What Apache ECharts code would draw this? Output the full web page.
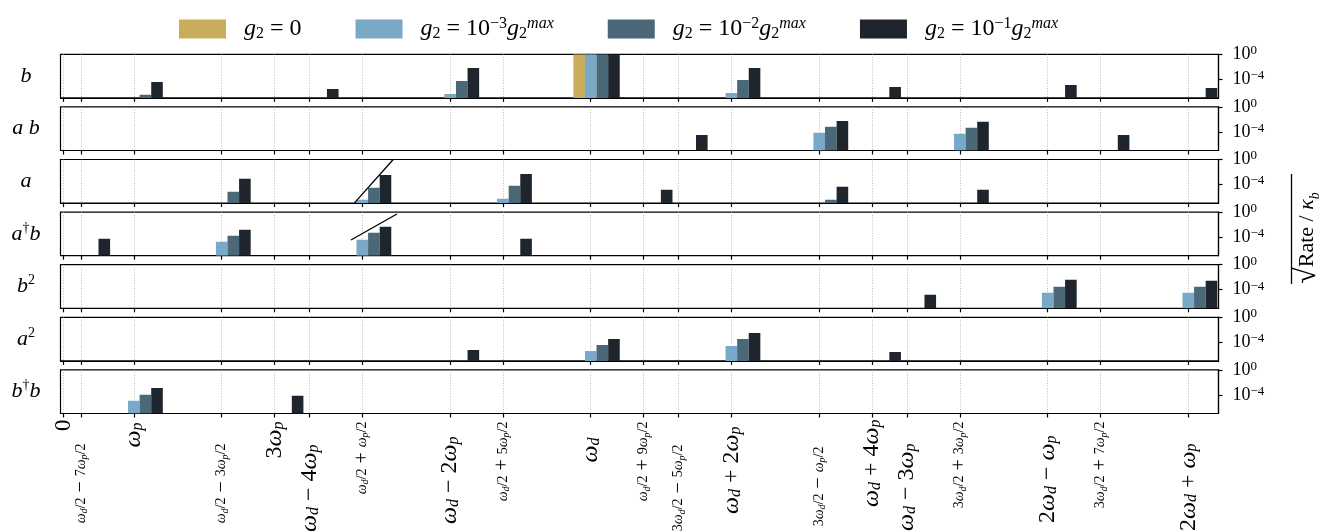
<!DOCTYPE html>
<html><head><meta charset="utf-8">
<script src="https://cdn.jsdelivr.net/npm/echarts@6/dist/echarts.min.js"></script>
<style>html,body{margin:0;padding:0;background:#fff}#c{width:1332px;height:531px}</style>
</head><body><div id="c"></div>
<script>
// ---------- data ----------
// x positions in units of omega_p (omega_d = 7.5 omega_p)
const tickPos = [0, 0.25, 1, 2.25, 3, 3.5, 4.25, 5.5, 6.25, 7.5, 8.25, 8.75, 9.5, 10.75, 11.5, 12, 12.75, 14, 14.75, 16];
const tickLabels = [
  '{Z|0}',
  '{S|ω}{Ss|d}{Sr|/2}{Or| − }{Sr|7}{S|ω}{Ss|p}{Sr|/2}',
  '{L|ω}{Ls|p}',
  '{S|ω}{Ss|d}{Sr|/2}{Or| − }{Sr|3}{S|ω}{Ss|p}{Sr|/2}',
  '{Lr|3}{L|ω}{Ls|p}',
  '{L|ω}{Ls|d}{Lr| − 4}{L|ω}{Ls|p}',
  '{S|ω}{Ss|d}{Sr|/2}{Or| + }{S|ω}{Ss|p}{Sr|/2}',
  '{L|ω}{Ls|d}{Lr| − 2}{L|ω}{Ls|p}',
  '{S|ω}{Ss|d}{Sr|/2}{Or| + }{Sr|5}{S|ω}{Ss|p}{Sr|/2}',
  '{L|ω}{Ls|d}',
  '{S|ω}{Ss|d}{Sr|/2}{Or| + }{Sr|9}{S|ω}{Ss|p}{Sr|/2}',
  '{Sr|3}{S|ω}{Ss|d}{Sr|/2}{Or| − }{Sr|5}{S|ω}{Ss|p}{Sr|/2}',
  '{L|ω}{Ls|d}{Lr| + 2}{L|ω}{Ls|p}',
  '{Sr|3}{S|ω}{Ss|d}{Sr|/2}{Or| − }{S|ω}{Ss|p}{Sr|/2}',
  '{L|ω}{Ls|d}{Lr| + 4}{L|ω}{Ls|p}',
  '{Lr|2}{L|ω}{Ls|d}{Lr| − 3}{L|ω}{Ls|p}',
  '{Sr|3}{S|ω}{Ss|d}{Sr|/2}{Or| + }{Sr|3}{S|ω}{Ss|p}{Sr|/2}',
  '{Lr|2}{L|ω}{Ls|d}{Lr| − }{L|ω}{Ls|p}',
  '{Sr|3}{S|ω}{Ss|d}{Sr|/2}{Or| + }{Sr|7}{S|ω}{Ss|p}{Sr|/2}',
  '{Lr|2}{L|ω}{Ls|d}{Lr| + }{L|ω}{Ls|p}'
];
// layout only: extra gap (px) between axis and each tick label
const tickLabelShift = [0, 24, 3, 24, 2, 25, 2, 17, 2, 18, 2, 25, 7, 27, 0, 24, 2, 16, 2, 24];

const seriesNames = ['g2 = 0', 'g2 = 1e-3 g2max', 'g2 = 1e-2 g2max', 'g2 = 1e-1 g2max'];
const seriesColors = ['#C9AD5C', '#79A9C7', '#4B6879', '#1E252C'];
const yTickValues = [1e-4, 1];

const panelLabels = ['{i|b}', '{i|a b}', '{i|a}', '{i|a}{sup|†}{i|b}', '{i|b}{sup|2}', '{i|a}{sup|2}', '{i|b}{sup|†}{i|b}'];

// sqrt(Rate)/kappa_b  rows: [x position, g2=0, 1e-3, 1e-2, 1e-1]
const rate_b = [
  [1, null, null, 3.2e-7, 3.6e-5],
  [3.5, null, null, null, 2.8e-6],
  [5.5, null, 4.4e-7, 5.2e-5, 6.3e-3],
  [7.5, 1, 1, 1, 1],
  [9.5, null, 6.3e-7, 7.6e-5, 6.3e-3],
  [11.5, null, null, null, 5.8e-6],
  [14, null, null, null, 1.2e-5],
  [16, null, null, null, 4.0e-6]
];
const rate_ab = [
  [8.75, null, null, null, 3.2e-5],
  [10.75, null, 6.8e-5, 6.3e-4, 5.6e-3],
  [12.75, null, 4.7e-5, 4.3e-4, 4.0e-3],
  [14.75, null, null, null, 3.2e-5]
];
const rate_a = [
  [2.25, null, null, 6.5e-6, 7.9e-4],
  [4.25, null, 3.4e-7, 2.8e-5, 3.4e-3],
  [6.25, null, 5.0e-7, 5.9e-5, 4.9e-3],
  [8.25, null, null, null, 1.35e-5],
  [10.75, null, null, 3.4e-7, 4.1e-5],
  [12.75, null, null, null, 1.35e-5]
];
const rate_adb = [
  [0.25, null, null, null, 5.2e-5],
  [2.25, null, 1.7e-5, 1.6e-4, 1.45e-3],
  [4.25, null, 3.6e-5, 4.8e-4, 4.4e-3],
  [6.25, null, null, null, 5.2e-5]
];
const rate_b2 = [
  [12, null, null, null, 1.55e-5],
  [14, null, 3.2e-5, 3.0e-4, 3.9e-3],
  [16, null, 3.2e-5, 3.0e-4, 2.7e-3]
];
const rate_a2 = [
  [5.5, null, null, null, 5.8e-6],
  [7.5, null, 4.0e-6, 3.6e-5, 3.3e-4],
  [9.5, null, 2.5e-5, 3.3e-4, 3.0e-3],
  [11.5, null, null, null, 2.8e-6]
];
const rate_bdb = [
  [1, null, 1.07e-5, 9.8e-5, 1.3e-3],
  [3, null, null, null, 6.8e-5]
];
const panelRates = [rate_b, rate_ab, rate_a, rate_adb, rate_b2, rate_a2, rate_bdb];

// annotation segments: [panel index, [x1,y1], [x2,y2]]
const guideLines = [
  [2, [4.136, 1e-7], [4.69, 1]],
  [3, [4.089, 3.3e-5], [4.743, 0.49]]
];

// ---------- chart ----------
const X_MIN = -0.043, X_MAX = 16.43, Y_MIN = 1e-7, Y_MAX = 1;
const BAR_W = 0.165;
const GRID_LEFT = 60.5, GRID_RIGHT = 113.5, TOP0 = 54.3, STEP = 52.6, H = 43.6;
const serif = 'Liberation Serif';

// label values listed so that the first two entries are far apart
// (ECharts keeps the first label and drops the second one if they touch)
const labelValues = [tickPos[2]].concat(tickPos.filter((_, j) => j !== 2));

const axisRich = {
  Z: {fontFamily: serif, fontSize: 23, lineHeight: 12, color: '#000'},
  L: {fontFamily: serif, fontStyle: 'italic', fontSize: 24, lineHeight: 24, color: '#000'},
  Lr: {fontFamily: serif, fontSize: 24, lineHeight: 24, color: '#000'},
  Ls: {fontFamily: serif, fontStyle: 'italic', fontSize: 16, lineHeight: 13, verticalAlign: 'bottom', color: '#000'},
  S: {fontFamily: serif, fontStyle: 'italic', fontSize: 14, lineHeight: 17, color: '#000'},
  Sr: {fontFamily: serif, fontSize: 14, lineHeight: 17, color: '#000'},
  Ss: {fontFamily: serif, fontStyle: 'italic', fontSize: 10, lineHeight: 10, verticalAlign: 'bottom', color: '#000'},
  Or: {fontFamily: serif, fontSize: 20, lineHeight: 17, color: '#000'}
};
for (let s = 0; s <= 34; s++) axisRich['pad' + s] = {width: s, lineHeight: 8};

const grids = [], xAxes = [], yAxes = [], series = [];
panelRates.forEach((rows, i) => {
  const last = i === panelRates.length - 1;
  grids.push({left: GRID_LEFT, right: GRID_RIGHT, top: TOP0 + STEP * i, height: H,
    outerBoundsMode: 'none', containLabel: false,
    show: true, borderColor: '#000', borderWidth: 1.2, backgroundColor: 'transparent'});
  xAxes.push({
    type: 'value', gridIndex: i, min: X_MIN, max: X_MAX,
    axisLine: {show: true, onZero: false, lineStyle: {color: '#000', width: 1.2}},
    axisTick: {show: true, customValues: tickPos, length: 4, lineStyle: {color: '#000', width: 1.2}},
    splitLine: {show: true, lineStyle: {color: '#a8a8a8', width: 0.8, type: [1, 1.6]}},
    axisLabel: {
      show: last, customValues: labelValues, rotate: 90, margin: 6, hideOverlap: false,
      showMinLabel: true, showMaxLabel: true,
      formatter: (v) => {
        const idx = tickPos.findIndex(t => Math.abs(t - v) < 1e-6);
        if (idx < 0) return '';
        return tickLabels[idx] + '{pad' + tickLabelShift[idx] + '|}';
      },
      rich: axisRich
    }
  });
  yAxes.push({
    type: 'log', logBase: 10, gridIndex: i, min: Y_MIN, max: Y_MAX, position: 'right',
    axisLine: {show: true, onZero: false, lineStyle: {color: '#000', width: 1.2}},
    axisTick: {show: true, customValues: yTickValues, length: 4, lineStyle: {color: '#000', width: 1.2}},
    minorTick: {show: false},
    splitLine: {show: false},
    axisLabel: {
      customValues: yTickValues, margin: 14, hideOverlap: false,
      showMinLabel: true, showMaxLabel: true,
      formatter: (v) => {
        const e = Math.round(Math.log10(v));
        return '{b|10}{s|' + String(e).replace('-', '−') + '}';
      },
      rich: {
        b: {fontFamily: serif, fontSize: 18, lineHeight: 20, color: '#000'},
        s: {fontFamily: serif, fontSize: 13, lineHeight: 12, verticalAlign: 'top', color: '#000'}
      }
    }
  });
  seriesNames.forEach((name, k) => {
    series.push({
      type: 'custom', name: name, xAxisIndex: i, yAxisIndex: i,
      itemStyle: {color: seriesColors[k]},
      encode: {x: 0, y: 1},
      data: rows.filter(r => r[k + 1] != null).map(r => [r[0], r[k + 1]]),
      renderItem: (params, api) => {
        const x = api.value(0), v = api.value(1);
        const off = (k - 1) * BAR_W;
        const p0 = api.coord([x + off - BAR_W / 2, v]);
        const p1 = api.coord([x + off + BAR_W / 2, Y_MIN]);
        return {type: 'rect', shape: {x: p0[0], y: p0[1], width: p1[0] - p0[0], height: p1[1] - p0[1]},
          style: {fill: seriesColors[k]}};
      },
      clip: true, z: 3
    });
  });
});
guideLines.forEach(([pi, a, b]) => {
  series.push({type: 'line', xAxisIndex: pi, yAxisIndex: pi, data: [a, b], symbol: 'none',
    lineStyle: {color: '#000', width: 1.3}, silent: true, z: 5, clip: false, animation: false});
});

const legendTexts = [
  '{sp|}{mi|g}{sub|2}{rm| = 0}',
  '{sp|}{mi|g}{sub|2}{rm| = 10}{sup|−3}{mi|g}{sub|2}{supi|max}',
  '{sp|}{mi|g}{sub|2}{rm| = 10}{sup|−2}{mi|g}{sub|2}{supi|max}',
  '{sp|}{mi|g}{sub|2}{rm| = 10}{sup|−1}{mi|g}{sub|2}{supi|max}'
];

const graphic = [];
panelLabels.forEach((t, i) => {
  graphic.push({type: 'text', x: 26, y: TOP0 + STEP * i + H / 2, style: {
    text: t, align: 'center', verticalAlign: 'middle',
    rich: {
      i: {fontFamily: serif, fontStyle: 'italic', fontSize: 22, lineHeight: 26, fill: '#000'},
      sup: {fontFamily: serif, fontSize: 14, lineHeight: 14, verticalAlign: 'top', fill: '#000'}
    }
  }});
});
graphic.push({type: 'text', x: 1307, y: 238, rotation: Math.PI / 2, style: {
  text: '{r|√}{t|Rate / }{k|κ}{sub|b}', align: 'center', verticalAlign: 'middle',
  rich: {
    r: {fontFamily: serif, fontSize: 30, lineHeight: 30, fill: '#000'},
    t: {fontFamily: serif, fontSize: 22, lineHeight: 30, fill: '#000'},
    k: {fontFamily: serif, fontStyle: 'italic', fontSize: 22, lineHeight: 30, fill: '#000'},
    sub: {fontFamily: serif, fontStyle: 'italic', fontSize: 14, lineHeight: 18, verticalAlign: 'bottom', fill: '#000'}
  }
}});
graphic.push({type: 'line', shape: {x1: 1291.5, y1: 174, x2: 1291.5, y2: 284}, style: {stroke: '#000', lineWidth: 1.3}});

const chart = echarts.init(document.getElementById('c'), null, {renderer: 'canvas'});
chart.setOption({
  animation: false,
  backgroundColor: '#fff',
  grid: grids, xAxis: xAxes, yAxis: yAxes, series: series, graphic: graphic,
  legend: {
    left: 174, top: 11, itemWidth: 47, itemHeight: 19, itemGap: 54,
    data: seriesNames.map((n, k) => ({name: n, icon: 'rect', itemStyle: {color: seriesColors[k]}})),
    formatter: (name) => legendTexts[seriesNames.indexOf(name)],
    selectedMode: false,
    textStyle: {
      rich: {
        sp: {width: 13},
        mi: {fontFamily: serif, fontStyle: 'italic', fontSize: 24, lineHeight: 26, color: '#000'},
        rm: {fontFamily: serif, fontSize: 24, lineHeight: 26, color: '#000'},
        sub: {fontFamily: serif, fontSize: 16, lineHeight: 14, verticalAlign: 'bottom', color: '#000'},
        sup: {fontFamily: serif, fontSize: 16, lineHeight: 14, verticalAlign: 'top', color: '#000'},
        supi: {fontFamily: serif, fontStyle: 'italic', fontSize: 16, lineHeight: 14, verticalAlign: 'top', color: '#000'}
      }
    }
  }
});
</script></body></html>
